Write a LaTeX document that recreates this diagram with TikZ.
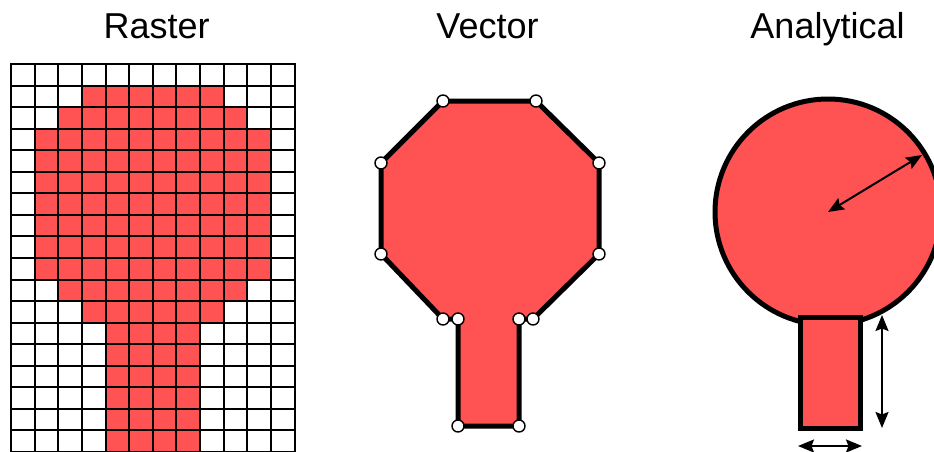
\documentclass[tikz,border=0pt]{standalone}
\usepackage{fontspec}
\setmainfont{Liberation Sans}
\usetikzlibrary{arrows.meta}
\definecolor{shapered}{RGB}{255,82,82}
\begin{document}
\begin{tikzpicture}[x=1pt,y=-1pt,
  title/.style={anchor=base,inner sep=0pt,font=\fontsize{36}{40}\selectfont},
  gridline/.style={line width=2pt,black},
  outline/.style={line width=5pt,black,line join=round,fill=shapered},
  vertexdot/.style={circle,draw=black,fill=white,line width=1.4pt,minimum size=12pt,inner sep=0pt},
  dimarrow/.style={line width=2pt,black,{Stealth[length=16pt,width=13pt,inset=2.5pt]}-{Stealth[length=16pt,width=13pt,inset=2.5pt]}}]
\useasboundingbox (0,0) rectangle (934,452);
\clip (0,0) rectangle (934,452);
\fill[white] (0,0) rectangle (934,452);
% titles
\node[title] (traster) at (156.7,39) {Raster};
\node[title] (tvector) at (487.5,39) {Vector};
\node[title] (tanalytical) at (827.5,39) {Analytical};
% raster cells
\foreach \r/\a/\b in {1/3/8,2/2/9,3/1/10,4/1/10,5/1/10,6/1/10,7/1/10,8/1/10,9/1/10,10/2/9,11/3/8,12/4/7,13/4/7,14/4/7,15/4/7,16/4/7,17/4/7}
  \fill[shapered] (11+\a*23.64,64.3+\r*21.52) rectangle (11+\b*23.64+23.64,64.3+\r*21.52+21.52);
\foreach \i in {0,...,12}
  \draw[gridline] (11+\i*23.64,64.3) -- (11+\i*23.64,452.7);
\foreach \j in {0,...,18}
  \draw[gridline] (10,64.3+\j*21.52) -- (295.7,64.3+\j*21.52);
% vector
\coordinate (v1) at (443,101);
\coordinate (v2) at (536,101);
\coordinate (v3) at (599,163);
\coordinate (v4) at (599,254);
\coordinate (v5) at (533,319);
\coordinate (v6) at (519,319);
\coordinate (v7) at (519,426);
\coordinate (v8) at (458,426);
\coordinate (v9) at (458,319);
\coordinate (v10) at (443,319);
\coordinate (v11) at (381,254);
\coordinate (v12) at (381,163);
\draw[outline] (v1) -- (v2) -- (v3) -- (v4) -- (v5) -- (v6) -- (v7) -- (v8) -- (v9) -- (v10) -- (v11) -- (v12) -- cycle;
\foreach \k in {1,...,12}
  \node[vertexdot] (d\k) at (v\k) {};
% analytical
\coordinate (cc) at (828,212);
\draw[outline] (cc) circle[radius=113pt];
\draw[outline,line join=miter] (800,317) rectangle (860,428);
\coordinate (rr) at (922,155);
\draw[dimarrow] (cc) -- (rr);
\coordinate (vt) at (882,315);
\coordinate (vb) at (882,428);
\draw[dimarrow] (vt) -- (vb);
\coordinate (hl) at (798,446);
\coordinate (hr) at (862,446);
\draw[dimarrow] (hl) -- (hr);
\end{tikzpicture}
\end{document}
